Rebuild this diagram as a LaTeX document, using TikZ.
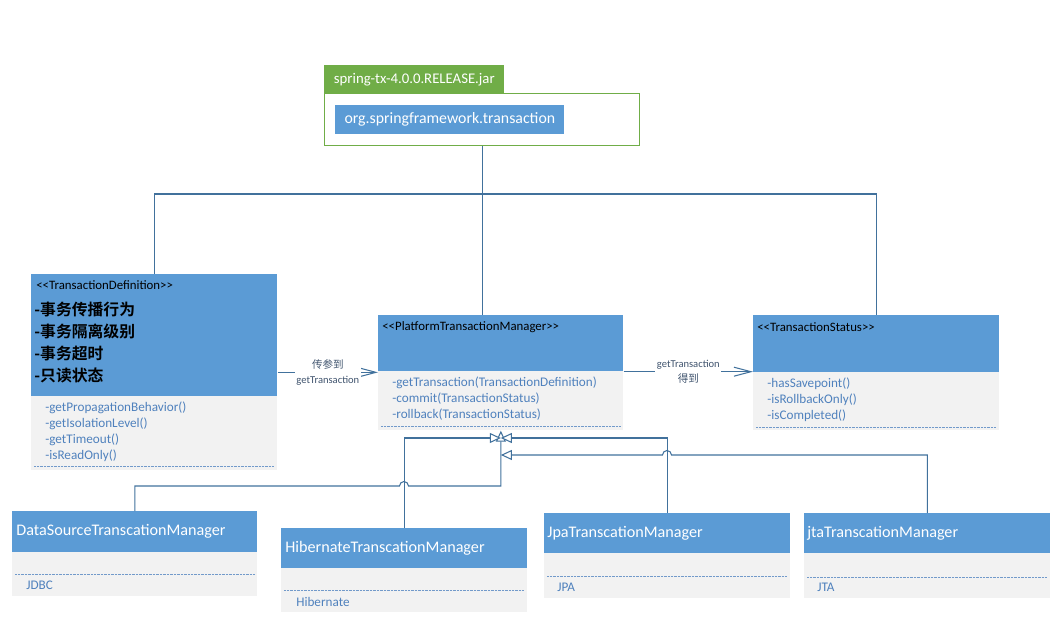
\documentclass[tikz,border=0pt]{standalone}
\usepackage{fontspec}
\setmainfont{Carlito}
\newfontfamily\cjk{Noto Sans CJK SC}[BoldFont={Noto Sans CJK SC Bold}]
\usetikzlibrary{arrows.meta}
\definecolor{hdrblue}{RGB}{91,155,213}
\definecolor{bodygray}{RGB}{242,242,242}
\definecolor{linkblue}{RGB}{65,113,156}
\definecolor{mthblue}{RGB}{79,129,189}
\definecolor{pkggreen}{RGB}{112,173,71}
\definecolor{lblgray}{RGB}{64,84,110}
\tikzset{
  sz/.style 2 args={minimum width=#1*0.02cm, minimum height=#2*0.02cm},
  body/.style={fill=bodygray, draw=none, anchor=north west, inner sep=0},
  hdr/.style={fill=hdrblue, draw=none, anchor=north west, inner sep=0},
  txt/.style={anchor=west, inner sep=0},
  stereo/.style={txt, font=\fontsize{7.3}{8.5}\selectfont},
  mth/.style={txt, text=mthblue, font=\fontsize{7.5}{9}\selectfont},
  cname/.style={txt, text=white, font=\fontsize{9.2}{11}\selectfont},
  cnline/.style={txt, font=\cjk\bfseries\fontsize{9}{11}\selectfont},
  dotsep/.style={draw=mthblue!80, dash pattern=on 0.4pt off 0.4pt, line width=0.4pt},
  conn/.style={draw=linkblue, line width=0.6pt},
  use/.style={conn, -{Straight Barb[length=3.4mm,width=1.8mm]}},
  inh/.style={conn, -{Triangle[open,length=2.2mm,width=2mm,fill=white]}},
  lbl/.style={fill=white, text=lblgray, align=center, inner sep=1pt, font=\fontsize{6}{8.5}\selectfont},
}
\begin{document}
\begin{tikzpicture}[x=0.02cm,y=-0.02cm]
  \useasboundingbox (0,0) rectangle (1062,628);

  % package spring-tx
  \node[fill=pkggreen, anchor=north west, inner sep=0, sz={180}{28}, text=white,
        font=\fontsize{8.4}{10}\selectfont] (pkgtab) at (324,65) {spring-tx-4.0.0.RELEASE.jar};
  \node[draw=pkggreen, line width=0.6pt, anchor=north west, inner sep=0, sz={315}{52}] (pkg) at (324,93) {};
  \node[hdr, sz={229}{29}, text=white, font=\fontsize{9}{11}\selectfont] (pkgname) at (335,105)
        {org.springframework.transaction};

  % TransactionDefinition
  \node[body, sz={246}{196}] (td) at (31,274) {};
  \node[hdr, sz={246}{122}] (tdh) at (31,274) {};
  \node[stereo] (tds) at (36,285) {<{}<TransactionDefinition>{}>};
  \node[cnline] (tdc1) at (34,309) {-事务传播行为};
  \node[cnline] (tdc2) at (34,331) {-事务隔离级别};
  \node[cnline] (tdc3) at (34,353) {-事务超时};
  \node[cnline] (tdc4) at (34,375) {-只读状态};
  \node[mth] (tdm1) at (45,408) {-getPropagationBehavior()};
  \node[mth] (tdm2) at (45,424) {-getIsolationLevel()};
  \node[mth] (tdm3) at (45,440) {-getTimeout()};
  \node[mth] (tdm4) at (45,456) {-isReadOnly()};
  \draw[dotsep] (34,466) -- (274,466);

  % PlatformTransactionManager
  \node[body, sz={245}{115}] (ptm) at (378,315) {};
  \node[hdr, sz={245}{56}] (ptmh) at (378,315) {};
  \node[stereo] (ptms) at (382,327) {<{}<PlatformTransactionManager>{}>};
  \node[mth] (ptmm1) at (392,383) {-getTransaction(TransactionDefinition)};
  \node[mth] (ptmm2) at (392,399) {-commit(TransactionStatus)};
  \node[mth] (ptmm3) at (392,415) {-rollback(TransactionStatus)};
  \draw[dotsep] (381,426) -- (620,426);

  % TransactionStatus
  \node[body, sz={246}{115}] (ts) at (753,315) {};
  \node[hdr, sz={246}{57}] (tsh) at (753,315) {};
  \node[stereo] (tss) at (757,327) {<{}<TransactionStatus>{}>};
  \node[mth] (tsm1) at (767,384) {-hasSavepoint()};
  \node[mth] (tsm2) at (767,400) {-isRollbackOnly()};
  \node[mth] (tsm3) at (767,416) {-isCompleted()};
  \draw[dotsep] (756,427) -- (996,427);

  % implementations
  \node[body, sz={245}{85}] (ds) at (12,511) {};
  \node[hdr, sz={245}{41}] (dsh) at (12,511) {};
  \node[cname] (dsn) at (16,531) {DataSourceTranscationManager};
  \draw[dotsep] (15,574) -- (254,574);
  \node[mth] (dsm) at (26,585) {JDBC};

  \node[body, sz={246}{84}] (hb) at (281,528) {};
  \node[hdr, sz={246}{40}] (hbh) at (281,528) {};
  \node[cname] (hbn) at (285,548) {HibernateTranscationManager};
  \draw[dotsep] (284,590) -- (524,590);
  \node[mth] (hbm) at (296,602) {Hibernate};

  \node[body, sz={246}{85}] (jpa) at (544,513) {};
  \node[hdr, sz={246}{40}] (jpah) at (544,513) {};
  \node[cname] (jpan) at (547,533) {JpaTranscationManager};
  \draw[dotsep] (547,576) -- (787,576);
  \node[mth] (jpam) at (557,587) {JPA};

  \node[body, sz={246}{85}] (jta) at (804,513) {};
  \node[hdr, sz={246}{40}] (jtah) at (804,513) {};
  \node[cname] (jtan) at (807,533) {jtaTranscationManager};
  \draw[dotsep] (807,577) -- (1047,577);
  \node[mth] (jtam) at (817,587) {JTA};

  % package links
  \coordinate (bus) at (481,194);
  \draw[conn] (pkg.south) -- (pkg.south |- ptm.north);
  \draw[conn] (td.north) |- (bus) -| (ts.north);

  % usage
  \draw[use] (td.east) -- (td.east -| ptm.west)
        node[lbl, midway] (lbluse1) {{\cjk 传参到}\\getTransaction};
  \draw[use] (ptmh.south east) -- (ptmh.south east -| ts.west)
        node[lbl, midway] (lbluse2) {getTransaction\\{\cjk 得到}};

  % inheritance
  \coordinate (gen) at (ptm.south |- 0,438);
  \coordinate (dsj) at (399.5,486);
  \coordinate (jtaj) at (671.5,455);
  \draw[inh] (ds.north) |- (dsj) arc[start angle=180,end angle=0,radius=0.09cm]
        -- (ptm.south |- dsj) -- (ptm.south);
  \draw[inh] (hb.north) |- (gen);
  \draw[inh] (jpa.north) |- (gen);
  \draw[inh] (jta.north) |- (jtaj) arc[start angle=0,end angle=180,radius=0.09cm]
        -- (ptm.south |- jtaj);
\end{tikzpicture}
\end{document}
